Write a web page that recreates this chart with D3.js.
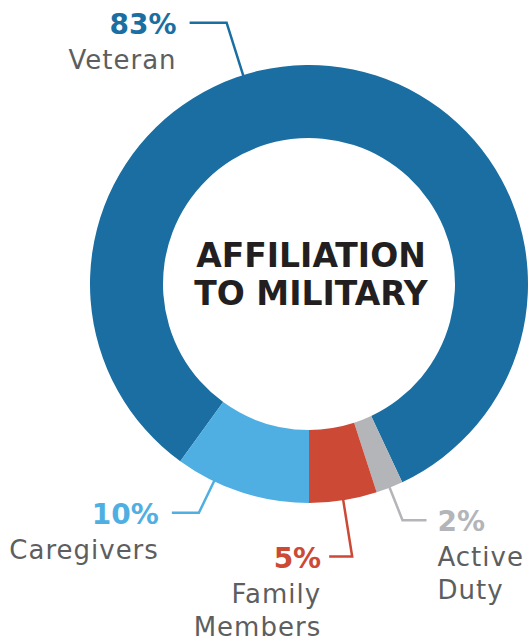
<!DOCTYPE html>
<html><head><meta charset="utf-8">
<script src="https://cdn.jsdelivr.net/npm/d3@7"></script>
<style>html,body{margin:0;padding:0;background:#fff;overflow:hidden}</style>
</head><body>
<svg id="chart" width="530" height="640"></svg>
<script>
// ---- data ----
const categories = ["Veteran", "Active Duty", "Family Members", "Caregivers"];
const values = [83, 2, 5, 10];
const colors = ["#1a6ea2", "#b3b5b8", "#cc4935", "#4fafe2"];
const labelLines = [["Veteran"], ["Active", "Duty"], ["Family", "Members"], ["Caregivers"]];
const titleLines = ["AFFILIATION", "TO MILITARY"];

// ---- layout ----
const W = 530, H = 640;
const cx = 309, cy = 284, R = 219, r = 146;
const deg = Math.PI / 180;
// leader-line layout per slice (angle null -> slice centroid)
const leaderLayout = [
  {angle: -17.5, elbowR: 274, hLen: -37, gap: 13},
  {angle: null,  elbowR: 254, hLen: 24,  gap: 11},
  {angle: null,  elbowR: 276, hLen: -23, gap: 8},
  {angle: 205.7, elbowR: 254, hLen: -27, gap: 13}
];

const svg = d3.select("#chart");
const g = svg.append("g").attr("transform", `translate(${cx},${cy})`);

const pie = d3.pie().sort(null).value(d => d)
  .startAngle(-0.4 * 2 * Math.PI).endAngle(0.6 * 2 * Math.PI);
const arcs = pie(values);
const arc = d3.arc().innerRadius(r).outerRadius(R);

g.selectAll("path.slice").data(arcs).enter().append("path")
  .attr("class", "slice")
  .attr("d", arc)
  .attr("fill", (d, i) => colors[i]);

// title
const title = g.append("text")
  .attr("text-anchor", "middle")
  .attr("font-family", "DejaVu Sans")
  .attr("font-weight", "bold")
  .attr("font-size", 33)
  .attr("fill", "#231f20");
titleLines.forEach((t, i) => {
  title.append("tspan").attr("x", 2).attr("y", -17 + i * 38).text(t);
});

// leaders + labels
const pt = (a, rad) => [Math.sin(a) * rad, -Math.cos(a) * rad];
arcs.forEach((d, i) => {
  const L = leaderLayout[i];
  const a = L.angle === null ? (d.startAngle + d.endAngle) / 2 : L.angle * deg;
  const p0 = pt(a, R - 2);
  const p1 = pt(a, L.elbowR);
  const p2 = [p1[0] + L.hLen, p1[1]];
  g.append("path")
    .attr("d", d3.line()([p0, p1, p2]))
    .attr("fill", "none")
    .attr("stroke", colors[i])
    .attr("stroke-width", 2.5)
    .attr("stroke-linejoin", "miter");
  const right = L.hLen < 0;
  const tx = p2[0] + (right ? -L.gap : L.gap);
  const anchor = right ? "end" : "start";
  g.append("text")
    .attr("x", tx).attr("y", p1[1] + 11)
    .attr("text-anchor", anchor)
    .attr("font-family", "DejaVu Sans")
    .attr("font-weight", "bold")
    .attr("font-size", 28)
    .attr("fill", colors[i])
    .text(d3.format(".0f")(values[i]) + "%");
  const lbl = g.append("text")
    .attr("text-anchor", anchor)
    .attr("font-family", "DejaVu Sans")
    .attr("font-size", 26)
    .attr("letter-spacing", 1)
    .attr("fill", "#5d5e60");
  labelLines[i].forEach((t, j) => {
    lbl.append("tspan").attr("x", tx).attr("y", p1[1] + 11 + 35 + j * 33).text(t);
  });
});
</script>
</body></html>
